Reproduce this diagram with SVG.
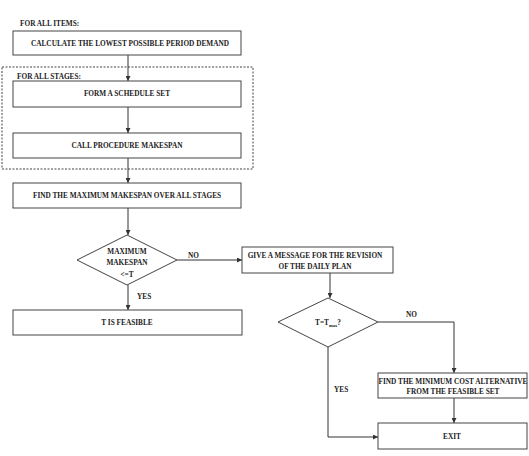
<svg xmlns="http://www.w3.org/2000/svg" width="529" height="456" viewBox="0 0 529 456">
<defs>
<marker id="ah" viewBox="0 0 6 6" refX="6" refY="3" markerWidth="5" markerHeight="5" orient="auto" markerUnits="userSpaceOnUse">
<path d="M0,0 L6,3 L0,6 z" fill="#333"/>
</marker>
<style>
.box{fill:#fff;stroke:#444;stroke-width:1}
.dash{fill:none;stroke:#444;stroke-width:1;stroke-dasharray:2,1.5}
.t{font-family:"Liberation Serif","Times New Roman",serif;font-size:7.3px;fill:#222;font-weight:bold}
.c{text-anchor:middle}
.ln{fill:none;stroke:#333;stroke-width:1}
</style>
</defs>
<rect width="529" height="456" fill="#fff"/>
<g id="items-label"><text class="t" x="20" y="25.5">FOR ALL ITEMS:</text></g>
<g id="stages-frame">
<rect class="dash" x="2" y="67" width="251" height="102"/>
<text class="t" x="17" y="79">FOR ALL STAGES:</text>
</g>
<g id="connectors">
<line class="ln" x1="128" y1="55" x2="128" y2="81" marker-end="url(#ah)"/>
<line class="ln" x1="128" y1="107" x2="128" y2="133" marker-end="url(#ah)"/>
<line class="ln" x1="128" y1="158" x2="128" y2="183" marker-end="url(#ah)"/>
<line class="ln" x1="128" y1="208" x2="128" y2="235" marker-end="url(#ah)"/>
<line class="ln" x1="128" y1="285" x2="128" y2="310" marker-end="url(#ah)"/>
<line class="ln" x1="177" y1="260" x2="242" y2="260" marker-end="url(#ah)"/>
<line class="ln" x1="330" y1="273" x2="330" y2="298" marker-end="url(#ah)"/>
<polyline class="ln" points="378,322 454,322 454,373" marker-end="url(#ah)"/>
<line class="ln" x1="454" y1="398" x2="454" y2="423" marker-end="url(#ah)"/>
<polyline class="ln" points="328,347 328,437 378,437" marker-end="url(#ah)"/>
<text class="t" x="188" y="258">NO</text>
<text class="t" x="137" y="299">YES</text>
<text class="t" x="406" y="317">NO</text>
<text class="t" x="334" y="392">YES</text>
</g>
<g id="calc">
<rect class="box" x="13" y="31" width="228" height="24"/>
<text class="t c" x="130" y="45.5">CALCULATE THE LOWEST POSSIBLE PERIOD DEMAND</text>
</g>
<g id="schedule">
<rect class="box" x="13" y="81" width="228" height="26"/>
<text class="t c" x="127" y="96">FORM A SCHEDULE SET</text>
</g>
<g id="makespan">
<rect class="box" x="13" y="133" width="228" height="25"/>
<text class="t c" x="127" y="147.5">CALL PROCEDURE MAKESPAN</text>
</g>
<g id="findmax">
<rect class="box" x="13" y="183" width="228" height="25"/>
<text class="t c" x="127" y="197.5">FIND THE MAXIMUM MAKESPAN OVER ALL STAGES</text>
</g>
<g id="decision1">
<polygon class="box" points="127,235 177,260 127,285 77,260"/>
<text class="t c" x="127" y="254">MAXIMUM</text>
<text class="t c" x="127" y="264.5">MAKESPAN</text>
<text class="t c" x="127" y="277">&lt;=T</text>
</g>
<g id="feasible">
<rect class="box" x="13" y="310" width="229" height="25"/>
<text class="t c" x="127" y="324.5">T IS FEASIBLE</text>
</g>
<g id="message">
<rect class="box" x="242" y="247" width="151" height="26"/>
<text class="t c" x="315" y="258">GIVE A MESSAGE FOR THE REVISION</text>
<text class="t c" x="315" y="268.5">OF THE DAILY PLAN</text>
</g>
<g id="decision2">
<polygon class="box" points="328,298 378,322 328,347 278,322"/>
<text class="t c" x="328" y="325">T=T<tspan font-size="4.5" dy="1.5">max</tspan><tspan dy="-1.5">?</tspan></text>
</g>
<g id="mincost">
<rect class="box" x="378" y="373" width="149" height="25"/>
<text class="t c" x="453" y="383.5">FIND THE MINIMUM COST ALTERNATIVE</text>
<text class="t c" x="453" y="394">FROM THE FEASIBLE SET</text>
</g>
<g id="exit">
<rect class="box" x="378" y="423" width="149" height="26"/>
<text class="t c" x="452" y="438.5">EXIT</text>
</g>
</svg>
